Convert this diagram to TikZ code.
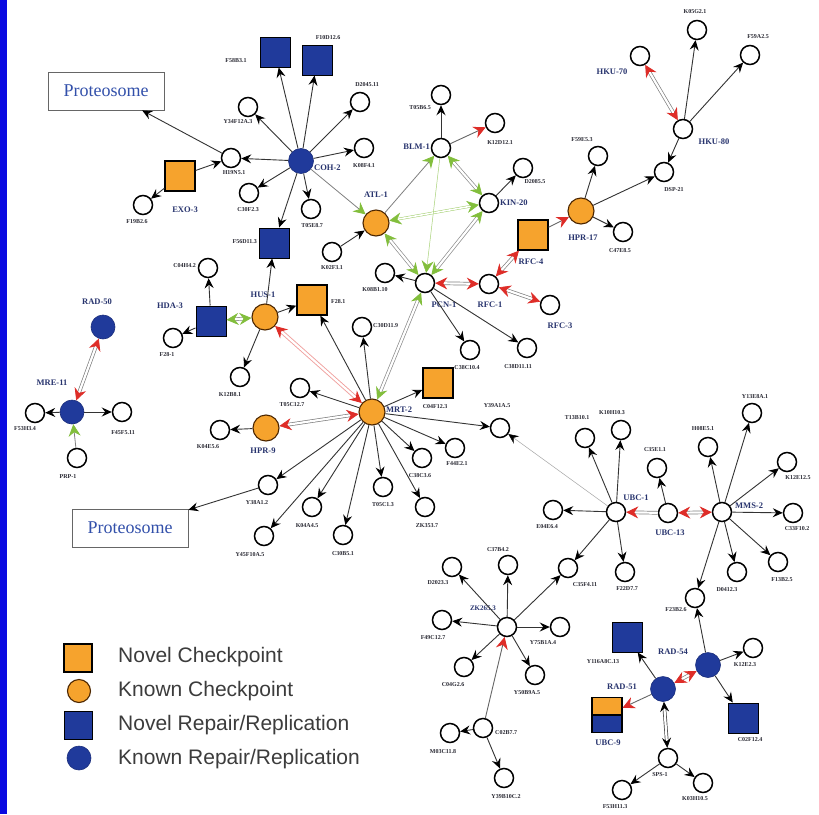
\documentclass[tikz,border=0pt]{standalone}
\usepackage{fontspec}
\setmainfont{Liberation Serif}
\newfontfamily\legf{Liberation Sans}
\usetikzlibrary{arrows.meta}
\definecolor{orng}{RGB}{246,163,45}
\definecolor{bluN}{RGB}{32,58,155}
\definecolor{redc}{RGB}{222,45,40}
\definecolor{grnc}{RGB}{130,190,60}
\definecolor{labc}{RGB}{40,40,50}
\definecolor{gnc}{RGB}{40,52,110}
\definecolor{protc}{RGB}{50,80,170}
\definecolor{stripc}{RGB}{10,10,225}
\definecolor{legc}{RGB}{60,60,60}
\tikzset{
  sm/.style={circle, draw=black, fill=white, line width=1.5pt, minimum size=19pt, inner sep=0pt},
  ocirc/.style={circle, draw=black!70!orange, fill=orng, line width=1.1pt, minimum size=26pt, inner sep=0pt},
  bcirc/.style={circle, draw=bluN!80!black, fill=bluN, line width=0.6pt, minimum size=25pt, inner sep=0pt},
  osq/.style={rectangle, draw=black, fill=orng, line width=1.3pt, minimum size=30pt, inner sep=0pt},
  bsq/.style={rectangle, draw=black, fill=bluN, line width=1pt, minimum size=30pt, inner sep=0pt},
  lb/.style={font=\bfseries\fontsize{6}{6}\selectfont, text=labc, inner sep=0pt},
  gn/.style={font=\bfseries\fontsize{8.5}{9}\selectfont, text=gnc, inner sep=0pt},
  protbox/.style={draw=black!60, line width=0.8pt, minimum width=116pt, minimum height=38pt, font=\fontsize{18}{18}\selectfont, text=protc, inner sep=0pt},
  leg/.style={font=\legf\fontsize{21}{21}\selectfont, text=legc, inner sep=0pt, anchor=west},
  btipx/.tip={Stealth[length=10pt,width=9pt,inset=3.5pt,color=black]},
  rtipx/.tip={Stealth[length=12pt,width=12pt,inset=4pt,color=redc]},
  gtipx/.tip={Stealth[length=12pt,width=12pt,inset=4pt,color=grnc]},
  ar/.style={draw=black!80, line width=0.9pt, -btipx},
  arR/.style={draw=black!60, line width=0.9pt, -rtipx},
  arG/.style={draw=black!50, line width=0.8pt, -gtipx},
  dR/.style={draw=black!50, line width=0.7pt, double=white, double distance=2.2pt, rtipx-rtipx},
  dRs/.style={draw=black!50, line width=0.7pt, double=white, double distance=2.2pt, -rtipx},
  dP/.style={draw=redc!45, line width=0.9pt, double=white, double distance=2.2pt, rtipx-rtipx},
  dG/.style={draw=black!45, line width=0.7pt, double=white, double distance=2.2pt, gtipx-gtipx},
  dGt/.style={draw=grnc!80, line width=0.45pt, double=white, double distance=1.6pt, gtipx-gtipx},
  dK/.style={draw=black!75, line width=0.7pt, double=white, double distance=2.2pt, btipx-btipx},
}
\begin{document}
\begin{tikzpicture}[x=1pt,y=-1pt]
\useasboundingbox (0,0) rectangle (819,814);
\fill[white] (0,0) rectangle (819,814);
\fill[stripc] (0,0) rectangle (7,814);

% ---------------- top-left cluster
\node[protbox] (prot1) at (106,91) {Proteosome};
\node[bsq] (sqA) at (275,52) {};
\node[lb] at (236,61) {F58B3.1};
\node[bsq] (sqB) at (317,60) {};
\node[lb] at (328,38) {F10D12.6};
\node[sm] (y34) at (248,107) {};
\node[lb] at (238,122) {Y34F12A.3};
\node[sm] (h19) at (231,158) {};
\node[lb] at (234,173) {H19N5.1};
\node[sm] (c30f) at (249,193) {};
\node[lb] at (248,210) {C30F2.3};
\node[osq] (exo3) at (180,176) {};
\node[gn] at (185,210) {EXO-3};
\node[sm] (f19b) at (143,205) {};
\node[lb] at (137,222) {F19B2.6};
\node[bcirc] (coh2) at (301,161) {};
\node[gn, anchor=west] at (314,168) {COH-2};
\node[sm] (d2045) at (360,102) {};
\node[lb] at (367,85) {D2045.11};
\node[sm] (k08f) at (364,148) {};
\node[lb] at (364,166) {K08F4.1};
\node[sm] (t05e) at (311,209) {};
\node[lb] at (312,226) {T05E8.7};
\node[bsq] (f56d) at (274,243) {};
\node[lb, anchor=east] at (257,242) {F56D11.3};

% ---------------- ATL / BLM / KIN
\node[ocirc] (atl1) at (376,223) {};
\node[gn] at (376,195) {ATL-1};
\node[sm] (k02f) at (332,252) {};
\node[lb] at (332,268) {K02F3.1};
\node[sm] (blm1) at (441,148) {};
\node[gn, anchor=east] at (430,147) {BLM-1};
\node[sm] (t05b) at (441,95) {};
\node[lb] at (420,108) {T05B6.5};
\node[sm] (k12d) at (495,123) {};
\node[lb] at (500,143) {K12D12.1};
\node[sm] (kin20) at (489,203) {};
\node[gn, anchor=west] at (500,203) {KIN-20};
\node[sm] (d2085) at (523,168) {};
\node[lb] at (535,182) {D2085.5};

% ---------------- top-right
\node[sm] (k05g) at (697,30) {};
\node[lb] at (695,12) {K05G2.1};
\node[sm] (f59a) at (750,55) {};
\node[lb] at (758,37) {F59A2.5};
\node[sm] (hku70) at (640,56) {};
\node[gn] at (612,72) {HKU-70};
\node[sm] (hku80) at (683,129) {};
\node[gn] at (714,142) {HKU-80};
\node[sm] (dsp21) at (664,172) {};
\node[lb] at (674,190) {DSP-21};
\node[ocirc] (hpr17) at (581,211) {};
\node[gn] at (583,238) {HPR-17};
\node[sm] (f59e) at (598,156) {};
\node[lb] at (582,140) {F59E5.3};
\node[sm] (c47e) at (623,232) {};
\node[lb] at (620,251) {C47E8.5};
\node[osq] (rfc4) at (533,235) {};
\node[gn] at (531,262) {RFC-4};

% ---------------- PCN / RFC
\node[sm] (pcn1) at (425,283) {};
\node[gn] at (444,305) {PCN-1};
\node[sm] (rfc1) at (489,284) {};
\node[gn] at (490,305) {RFC-1};
\node[sm] (rfc3) at (550,305) {};
\node[gn] at (560,326) {RFC-3};
\node[sm] (k08b) at (385,273) {};
\node[lb] at (375,290) {K08B1.10};
\node[sm] (c30d) at (362,327) {};
\node[lb, anchor=west] at (373,326) {C30D11.9};
\node[sm] (c38c10) at (470,350) {};
\node[lb] at (467,368) {C38C10.4};
\node[sm] (c38d) at (527,348) {};
\node[lb] at (518,367) {C38D11.11};

% ---------------- HUS / HDA
\node[osq] (f28) at (312,300) {};
\node[lb, anchor=west] at (331,302) {F28.1};
\node[ocirc] (hus1) at (265,317) {};
\node[gn] at (263,295) {HUS-1};
\node[bsq] (hda3) at (211,321) {};
\node[gn] at (170,306) {HDA-3};
\node[sm] (c04h) at (208,268) {};
\node[lb, anchor=east] at (196,266) {C04H4.2};
\node[sm] (f281) at (173,338) {};
\node[lb] at (167,355) {F28-1};
\node[sm] (k12b) at (240,377) {};
\node[lb] at (230,395) {K12B8.1};

% ---------------- RAD-50 / MRE-11
\node[bcirc, minimum size=24pt] (rad50) at (103,327) {};
\node[gn] at (97,302) {RAD-50};
\node[bcirc, minimum size=24pt] (mre11) at (72,412) {};
\node[gn] at (52,383) {MRE-11};
\node[sm] (f53h) at (35,413) {};
\node[lb] at (25,429) {F53H3.4};
\node[sm] (f45f) at (122,412) {};
\node[lb] at (123,433) {F45F5.11};
\node[sm] (f49) at (77,458) {};
\node[lb] at (68,477) {PRP-1};

% ---------------- MRT-2 hub
\node[ocirc] (mrt2) at (372,412) {};
\node[gn, anchor=west] at (386,410) {MRT-2};
\node[osq] (c04f) at (438,383) {};
\node[lb] at (435,407) {C04F12.3};
\node[sm] (t05c12) at (300,388) {};
\node[lb] at (292,405) {T05C12.7};
\node[ocirc] (hpr9) at (266,428) {};
\node[gn] at (263,451) {HPR-9};
\node[sm] (k04e) at (220,430) {};
\node[lb] at (208,447) {K04E5.6};
\node[sm] (y39a) at (500,428) {};
\node[lb] at (497,406) {Y39A1A.5};
\node[sm] (f44e) at (455,448) {};
\node[lb] at (457,464) {F44E2.1};
\node[sm] (c38c3) at (422,458) {};
\node[lb] at (420,476) {C38C3.6};
\node[sm] (t05c1) at (383,487) {};
\node[lb] at (383,505) {T05C1.3};
\node[sm] (zk353) at (425,507) {};
\node[lb] at (427,526) {ZK353.7};
\node[sm] (c30b) at (343,535) {};
\node[lb] at (343,554) {C30B5.1};
\node[sm] (k04a) at (312,507) {};
\node[lb] at (307,526) {K04A4.5};
\node[sm] (y38a) at (268,485) {};
\node[lb] at (257,503) {Y38A1.2};
\node[sm] (y45f) at (264,536) {};
\node[lb] at (250,555) {Y45F10A.5};
\node[protbox] (prot2) at (130,528) {Proteosome};

% ---------------- UBC cluster
\node[sm] (ubc1) at (616,512) {};
\node[gn] at (636,498) {UBC-1};
\node[sm] (ubc13) at (668,513) {};
\node[gn] at (670,533) {UBC-13};
\node[sm] (mms2) at (722,512) {};
\node[gn, anchor=west] at (735,506) {MMS-2};
\node[sm] (t13b) at (585,438) {};
\node[lb] at (577,418) {T13B10.1};
\node[sm] (k10h) at (621,430) {};
\node[lb] at (612,413) {K10H10.3};
\node[sm] (c35e) at (657,468) {};
\node[lb] at (655,450) {C35E1.1};
\node[sm] (h08e) at (708,447) {};
\node[lb] at (703,429) {H08E5.1};
\node[sm] (y13e) at (752,413) {};
\node[lb] at (755,397) {Y13E8A.1};
\node[sm] (k12e12) at (787,462) {};
\node[lb] at (798,478) {K12E12.5};
\node[sm] (c33f) at (793,513) {};
\node[lb] at (797,529) {C33F10.2};
\node[sm] (e04h) at (553,510) {};
\node[lb] at (547,527) {E04E6.4};
\node[sm] (c35f) at (568,568) {};
\node[lb] at (585,585) {C35F4.11};
\node[sm] (f22d) at (625,572) {};
\node[lb] at (627,589) {F22D7.7};
\node[sm] (d0412) at (737,572) {};
\node[lb] at (727,590) {D0412.3};
\node[sm] (f13b) at (778,562) {};
\node[lb] at (782,580) {F13B2.5};
\node[sm] (f23b) at (695,598) {};
\node[lb] at (676,610) {F23B2.6};

% ---------------- ZK hub
\node[sm] (zk) at (507,627) {};
\node[gn, font=\bfseries\fontsize{7}{8}\selectfont] at (483,608) {ZK265.3};
\node[sm] (d2023) at (452,567) {};
\node[lb] at (438,583) {D2023.3};
\node[sm] (c37b) at (508,565) {};
\node[lb] at (498,550) {C37B4.2};
\node[sm] (f49c) at (442,620) {};
\node[lb] at (433,638) {F49C12.7};
\node[sm] (c04g) at (464,667) {};
\node[lb] at (453,685) {C04G2.6};
\node[sm] (y50b) at (535,675) {};
\node[lb] at (527,693) {Y50B9A.5};
\node[sm] (y75b) at (560,627) {};
\node[lb] at (543,643) {Y75B1A.4};
\node[sm] (c02b) at (483,728) {};
\node[lb, anchor=west] at (495,733) {C02B7.7};
\node[sm] (m03c) at (450,733) {};
\node[lb] at (443,752) {M03C11.8};
\node[sm] (y39b) at (504,778) {};
\node[lb] at (506,797) {Y39B10C.2};

% ---------------- RAD-51 / RAD-54
\node[bsq] (y116) at (627,637) {};
\node[lb] at (603,662) {Y116A8C.13};
\node[bcirc] (rad54) at (708,665) {};
\node[gn] at (673,652) {RAD-54};
\node[sm] (k12e2) at (753,648) {};
\node[lb] at (745,665) {K12E2.3};
\node[bsq] (c02f) at (743,718) {};
\node[lb] at (750,740) {C02F12.4};
\node[bcirc] (rad51) at (663,689) {};
\node[gn] at (622,687) {RAD-51};
\node[draw=black, line width=1.2pt, minimum width=30pt, minimum height=35pt, inner sep=0pt,
  path picture={\fill[orng] (path picture bounding box.north west) rectangle (path picture bounding box.east);
                \fill[bluN] (path picture bounding box.west) rectangle (path picture bounding box.south east);
                \draw[line width=1.2pt] (path picture bounding box.west) -- (path picture bounding box.east);}] (ubc9) at (607,715) {};
\node[gn] at (608,743) {UBC-9};
\node[sm] (sps1) at (668,758) {};
\node[lb] at (660,775) {SPS-1};
\node[sm] (f53h11) at (622,790) {};
\node[lb] at (615,807) {F53H11.3};
\node[sm] (k03h) at (703,783) {};
\node[lb] at (695,799) {K03H10.5};

% ---------------- legend
\node[osq, minimum size=28pt] (lg1) at (78,658) {};
\node[ocirc, minimum size=23pt] (lg2) at (79,691) {};
\node[bsq, minimum size=28pt] (lg3) at (78,725) {};
\node[bcirc, minimum size=24pt] (lg4) at (79,758) {};
\node[leg] (lt1) at (118,657) {Novel Checkpoint};
\node[leg] (lt2) at (118,691) {Known Checkpoint};
\node[leg] (lt3) at (118,725) {Novel Repair/Replication};
\node[leg] (lt4) at (118,759) {Known Repair/Replication};

% ================= edges
% top-left
\draw[ar] (h19) -- (prot1);
\draw[ar] (exo3) -- (h19);
\draw[ar] (exo3) -- (f19b);
\foreach \t in {h19,y34,sqA,sqB,d2045,k08f,t05e,c30f,f56d} \draw[ar] (coh2) -- (\t);
\draw[arG] (coh2) -- (atl1);
\draw[ar] (k02f) -- (atl1);
% ATL/BLM/KIN/PCN
\draw[arG] (atl1) -- (blm1);
\draw[dGt] (atl1) -- (kin20);
\draw[dG] (atl1) -- (pcn1);
\draw[dG] (blm1) -- (kin20);
\draw[draw=grnc!70, line width=0.5pt, -gtipx] (blm1) -- (pcn1);
\draw[dG] (kin20) -- (pcn1);
\draw[ar] (blm1) -- (t05b);
\draw[arR] (blm1) -- (k12d);
\draw[ar] (kin20) -- (d2085);
% right top
\draw[arR] (rfc4) -- (hpr17);
\draw[ar] (hpr17) -- (dsp21);
\draw[ar] (hpr17) -- (f59e);
\draw[ar] (hpr17) -- (c47e);
\draw[ar] (hku80) -- (dsp21);
\draw[ar] (hku80) -- (k05g);
\draw[ar] (hku80) -- (f59a);
\draw[dR] (hku70) -- (hku80);
% PCN / RFC
\draw[dR] (pcn1) -- (rfc1);
\draw[dR] (rfc1) -- (rfc4);
\draw[dR] (rfc1) -- (rfc3);
\draw[ar] (pcn1) -- (k08b);
\draw[ar] (pcn1) -- (c38c10);
\draw[ar] (pcn1) -- (c38d);
\draw[dG] (mrt2) -- (pcn1);
% HUS / HDA
\draw[ar] (hus1) -- (f56d);
\draw[ar] (hus1) -- (f28);
\draw[ar] (hus1) -- (k12b);
\draw[ar] (hda3) -- (c04h);
\draw[ar] (hda3) -- (f281);
\draw[dG] (hda3) -- (hus1);
% MRT-2
\draw[dP] (mrt2) -- (hus1);
\draw[dR] (mrt2) -- (hpr9);
\foreach \t in {f28,c30d,c04f,t05c12,y39a,f44e,c38c3,zk353,t05c1,c30b,k04a,y38a,y45f} \draw[ar] (mrt2) -- (\t);
\draw[ar] (hpr9) -- (k04e);
\draw[ar] (y38a) -- (prot2);
% RAD-50 / MRE-11
\draw[dR] (rad50) -- (mre11);
\draw[ar] (mre11) -- (f53h);
\draw[ar] (mre11) -- (f45f);
\draw[arG] (f49) -- (mre11);
% UBC
\draw[draw=black!35, line width=0.5pt, -btipx] (ubc1) -- (y39a);
\foreach \t in {t13b,k10h,e04h,c35f,f22d} \draw[ar] (ubc1) -- (\t);
\draw[dRs] (ubc13) -- (ubc1);
\draw[dR] (ubc13) -- (mms2);
\draw[ar] (ubc13) -- (c35e);
\foreach \t in {h08e,y13e,k12e12,c33f,f23b,d0412,f13b} \draw[ar] (mms2) -- (\t);
% ZK hub
\foreach \t in {d2023,c37b,f49c,c04g,y50b,y75b,c35f} \draw[ar] (zk) -- (\t);
\draw[arR] (c02b) -- (zk);
\draw[ar] (c02b) -- (m03c);
\draw[ar] (c02b) -- (y39b);
% RAD-51 / RAD-54
\draw[ar] (rad54) -- (f23b);
\draw[ar] (rad54) -- (k12e2);
\draw[ar] (rad54) -- (c02f);
\draw[ar] (rad51) -- (y116);
\draw[arR] (rad51) -- (ubc9);
\draw[dR] (rad51) -- (rad54);
\draw[dK] (rad51) -- (sps1);
\draw[ar] (sps1) -- (f53h11);
\draw[ar] (sps1) -- (k03h);
\end{tikzpicture}
\end{document}
